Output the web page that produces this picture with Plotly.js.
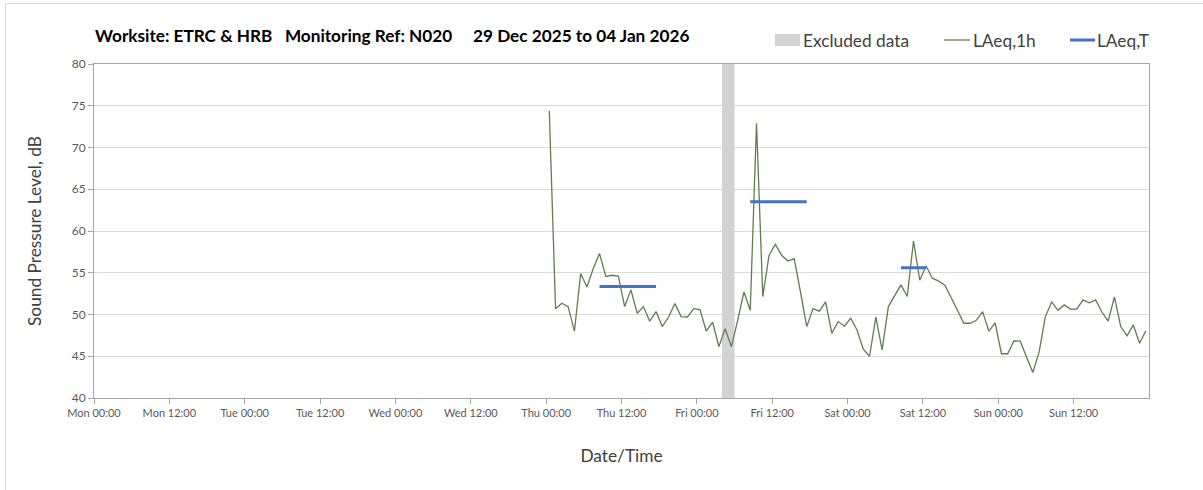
<!DOCTYPE html>
<html>
<head>
<meta charset="utf-8">
<script src="https://cdn.plot.ly/plotly-3.0.1.min.js"></script>
<style>
  html, body { margin: 0; padding: 0; background: #ffffff; }
  #chart { width: 1203px; height: 490px; }
  #frame { position: absolute; left: 5px; top: 3px; width: 1300px; height: 600px;
           border: 1px solid #d9d9d9; pointer-events: none; }
</style>
</head>
<body>
<div id="chart"></div>
<div id="frame"></div>
<script>
// ---- Data ----
const titleText = 'Worksite: ETRC & HRB\u00a0\u00a0\u00a0Monitoring Ref: N020\u00a0\u00a0\u00a0\u00a0\u00a029 Dec 2025 to 04 Jan 2026';
const axisStart = '2025-12-29 00:00';
const axisEnd = '2026-01-05 00:00';

// tick positions (every 12 h) and their labels
const tickTimes = [
  '2025-12-29 00:00','2025-12-29 12:00','2025-12-30 00:00','2025-12-30 12:00',
  '2025-12-31 00:00','2025-12-31 12:00','2026-01-01 00:00','2026-01-01 12:00',
  '2026-01-02 00:00','2026-01-02 12:00','2026-01-03 00:00','2026-01-03 12:00',
  '2026-01-04 00:00','2026-01-04 12:00'
];
const tickLabels = [
  'Mon 00:00','Mon 12:00','Tue 00:00','Tue 12:00','Wed 00:00','Wed 12:00',
  'Thu 00:00','Thu 12:00','Fri 00:00','Fri 12:00','Sat 00:00','Sat 12:00',
  'Sun 00:00','Sun 12:00'
];
const gridTimes = [
  '2025-12-30 00:00','2025-12-31 00:00','2026-01-01 00:00',
  '2026-01-02 00:00','2026-01-03 00:00','2026-01-04 00:00'
];

// LAeq,1h: hourly values, first sample plotted at Thu 01 Jan 2026 00:30
const firstSample = '2026-01-01T00:30:00Z';
const laeq1h = [
  74.4, 50.7, 51.35, 50.95, 48.0, 54.9, 53.3, 55.5, 57.3, 54.55, 54.7, 54.6,
  50.95, 52.95, 50.15, 50.95, 49.2, 50.35, 48.55, 49.7, 51.3, 49.75, 49.7, 50.7,
  50.6, 48.0, 49.1, 46.15, 48.3, 46.15, 49.3, 52.7, 50.5, 72.9, 52.15, 57.1,
  58.4, 57.1, 56.4, 56.7, 52.7, 48.55, 50.7, 50.4, 51.5, 47.75, 49.15, 48.6,
  49.55, 48.15, 45.85, 45.0, 49.7, 45.75, 50.95, 52.3, 53.55, 52.15, 58.8, 54.1,
  55.8, 54.35, 54.0, 53.5, 51.9, 50.5, 48.95, 48.95, 49.3, 50.35, 48.0, 49.0,
  45.3, 45.3, 46.85, 46.8, 44.9, 43.05, 45.5, 49.75, 51.5, 50.5, 51.15, 50.65,
  50.65, 51.75, 51.4, 51.75, 50.3, 49.2, 52.1, 48.55, 47.45, 48.75, 46.55, 48.05
];

// LAeq,T: period start, period end, level
const periodStart = ['2026-01-01 08:30','2026-01-02 08:30','2026-01-03 08:30'];
const periodEnd   = ['2026-01-01 17:30','2026-01-02 17:30','2026-01-03 12:30'];
const periodLevel = [53.35, 63.5, 55.6];

// Excluded data window
const excludedStart = '2026-01-02 04:00';
const excludedEnd   = '2026-01-02 06:00';

// ---- Build traces ----
function fmt(d) {
  const p = n => String(n).padStart(2, '0');
  return d.getUTCFullYear() + '-' + p(d.getUTCMonth() + 1) + '-' + p(d.getUTCDate()) +
    ' ' + p(d.getUTCHours()) + ':' + p(d.getUTCMinutes());
}
const t0 = new Date(firstSample).getTime();
const hourlyTimes = laeq1h.map((_, i) => fmt(new Date(t0 + i * 3600000)));

const tx = [], ty = [];
periodStart.forEach((s, i) => {
  tx.push(s, periodEnd[i], null);
  ty.push(periodLevel[i], periodLevel[i], null);
});

const FONT = 'Lato, "Open Sans", sans-serif';
const traces = [
  {
    x: hourlyTimes, y: laeq1h, type: 'scatter', mode: 'lines', name: 'LAeq,1h',
    line: { color: '#5f7f4b', width: 1.3 }, showlegend: false, hoverinfo: 'x+y'
  },
  {
    x: tx, y: ty, type: 'scatter', mode: 'lines', name: 'LAeq,T',
    line: { color: '#4472c4', width: 3 }, showlegend: false, connectgaps: false
  }
];

const layout = {
  width: 1203, height: 490,
  margin: { l: 94, r: 54, t: 64, b: 92 },
  paper_bgcolor: 'rgba(0,0,0,0)', plot_bgcolor: '#ffffff',
  font: { family: FONT, color: '#404040' },
  showlegend: false,
  title: {
    text: '<b>' + titleText + '</b>',
    xref: 'container', yref: 'container',
    x: 95 / 1203, xanchor: 'left', y: 1 - 36 / 490, yanchor: 'middle',
    font: { family: FONT, size: 17.2, color: '#000000' }
  },
  xaxis: {
    type: 'date', range: [axisStart, axisEnd],
    tickmode: 'array', tickvals: tickTimes, ticktext: tickLabels,
    showgrid: false, zeroline: false,
    showline: true, linecolor: '#a6a6a6', linewidth: 1, mirror: true,
    ticks: 'outside', ticklen: 5, tickcolor: '#a6a6a6',
    tickfont: { family: FONT, size: 11, color: '#595959' },
    title: { text: 'Date/Time', standoff: 31, font: { family: FONT, size: 17.3, color: '#404040' } },
    automargin: false, fixedrange: true
  },
  xaxis2: {
    type: 'date', range: [axisStart, axisEnd], overlaying: 'x', matches: 'x',
    tickmode: 'array', tickvals: gridTimes, showticklabels: false, ticks: '',
    showgrid: true, gridcolor: '#d9d9d9', gridwidth: 1, showline: false, zeroline: false
  },
  yaxis: {
    range: [40, 80], dtick: 5, tick0: 40,
    showgrid: true, gridcolor: '#d9d9d9', gridwidth: 1, zeroline: false,
    showline: true, linecolor: '#a6a6a6', linewidth: 1, mirror: true,
    ticks: 'outside', ticklen: 5, tickcolor: '#a6a6a6',
    tickfont: { family: FONT, size: 12, color: '#595959' },
    title: { text: 'Sound Pressure Level, dB', standoff: 25, font: { family: FONT, size: 17.3, color: '#404040' } },
    automargin: false, fixedrange: true
  },
  shapes: [
    { type: 'rect', xref: 'x', yref: 'y', x0: excludedStart, x1: excludedEnd, y0: 40, y1: 80,
      fillcolor: '#d3d3d3', line: { width: 0 }, layer: 'between' }
  ],
  annotations: []
};

// Custom legend in pixel positions converted to paper coords
const plotW = 1203 - 94 - 54, plotH = 490 - 64 - 92;
const px = x => (x - 94) / plotW;
const py = y => (490 - 92 - y) / plotH;
layout.shapes.push(
  { type: 'rect', xref: 'paper', yref: 'paper', x0: px(775), x1: px(800), y0: py(46), y1: py(34),
    fillcolor: '#d3d3d3', line: { width: 0 } },
  { type: 'line', xref: 'paper', yref: 'paper', x0: px(944), x1: px(970), y0: py(40), y1: py(40),
    line: { color: '#5f7f4b', width: 1.3 } },
  { type: 'line', xref: 'paper', yref: 'paper', x0: px(1070), x1: px(1095), y0: py(40), y1: py(40),
    line: { color: '#4472c4', width: 3 } }
);
[['Excluded data', 801], ['LAeq,1h', 971], ['LAeq,T', 1095]].forEach(([t, x]) => {
  layout.annotations.push({
    text: t, xref: 'paper', yref: 'paper', x: px(x), y: py(40), xanchor: 'left', yanchor: 'middle',
    showarrow: false, font: { family: FONT, size: 17.3, color: '#404040' }
  });
});

Plotly.newPlot('chart', traces, layout, { staticPlot: true, displayModeBar: false });
</script>
</body>
</html>
